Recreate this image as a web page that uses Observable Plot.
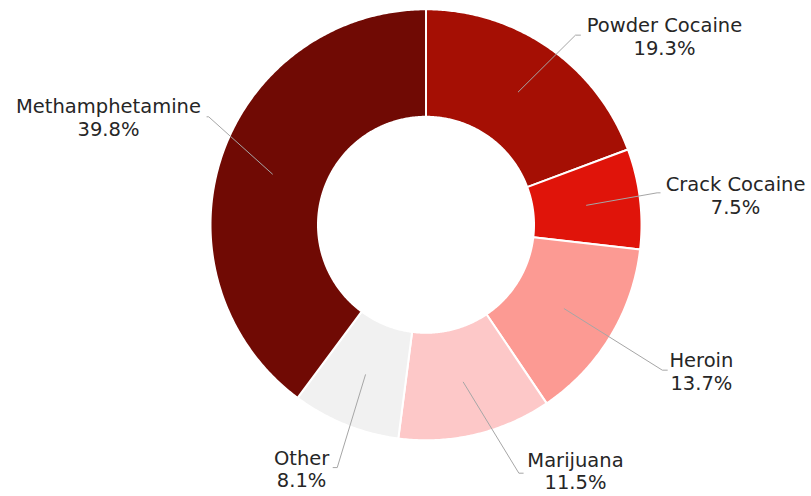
<!DOCTYPE html>
<html>
<head>
<meta charset="utf-8">
<script src="https://cdn.jsdelivr.net/npm/d3@7"></script>
<script src="https://cdn.jsdelivr.net/npm/@observablehq/plot@0.6"></script>
<style>
  html, body { margin: 0; padding: 0; background: #fff; }
  #chart svg { display: block; }
</style>
</head>
<body>
<div id="chart"></div>
<script>
// ---- data ----
const categories = ["Powder Cocaine", "Crack Cocaine", "Heroin", "Marijuana", "Other", "Methamphetamine"];
const shares = [19.3, 7.5, 13.7, 11.5, 8.1, 39.8];
const palette = ["#a50f04", "#e0140a", "#fc9a93", "#fdc8c8", "#f1f1f1", "#700a04"];

// ---- label layout (in units of the outer radius, centre = 0,0, y up) ----
const labelElbow = [[0.692, 0.878], [1.070, 0.148], [1.094, -0.673], [0.430, -1.150], [-0.411, -1.124], [-1.006, 0.500]];
const labelStub = [0.023, 0.014, 0.023, 0.020, -0.019, -0.008];
const labelCenter = [[1.104, 0.874], [1.433, 0.138], [1.275, -0.677], [0.692, -1.139], [-0.576, -1.130], [-1.470, 0.499]];

// ---- geometry ----
const W = 811, H = 496, cx = 425.5, cy = 224.3, R = 216;
const outerR = 215.5 / R, innerR = 0.5;
const arcs = d3.pie().sort(null).value(d => d)(shares);

const polyPts = [];
arcs.forEach((a, i) => {
  const name = categories[i];
  const n = Math.max(2, Math.ceil((a.endAngle - a.startAngle) / (Math.PI / 360)));
  for (let k = 0; k <= n; k++) {
    const t = a.startAngle + (a.endAngle - a.startAngle) * k / n;
    polyPts.push({name, x: outerR * Math.sin(t), y: outerR * Math.cos(t)});
  }
  for (let k = n; k >= 0; k--) {
    const t = a.startAngle + (a.endAngle - a.startAngle) * k / n;
    polyPts.push({name, x: innerR * Math.sin(t), y: innerR * Math.cos(t)});
  }
});

const leaderPts = [];
arcs.forEach((a, i) => {
  const name = categories[i];
  const mid = (a.startAngle + a.endAngle) / 2;
  const rm = (innerR + outerR) / 2;
  const [ex, ey] = labelElbow[i];
  leaderPts.push({name, x: rm * Math.sin(mid), y: rm * Math.cos(mid)});
  leaderPts.push({name, x: ex, y: ey});
  leaderPts.push({name, x: ex + labelStub[i], y: ey});
});

const labels = categories.map((name, i) => ({
  name,
  text: `${name}\n${shares[i].toFixed(1)}%`,
  x: labelCenter[i][0],
  y: labelCenter[i][1]
}));

const chart = Plot.plot({
  width: W,
  height: H,
  margin: 0,
  x: {domain: [-cx / R, (W - cx) / R], axis: null},
  y: {domain: [-(H - cy) / R, cy / R], axis: null},
  color: {domain: categories, range: palette},
  style: {fontFamily: "'Century Gothic', 'DejaVu Sans', sans-serif", background: "#fff"},
  marks: [
    Plot.line(polyPts, {x: "x", y: "y", z: "name", fill: "name", stroke: "#ffffff", strokeWidth: 2, curve: "linear-closed", strokeLinejoin: "round"}),
    Plot.line(leaderPts, {x: "x", y: "y", z: "name", stroke: "#a6a6a6", strokeWidth: 1}),
    Plot.text(labels, {x: "x", y: "y", text: "text", fontSize: 19.5, lineHeight: 1.16, lineAnchor: "middle", textAnchor: "middle", fill: "#262626", letterSpacing: 0.3})
  ]
});
document.getElementById("chart").appendChild(chart);
</script>
</body>
</html>
